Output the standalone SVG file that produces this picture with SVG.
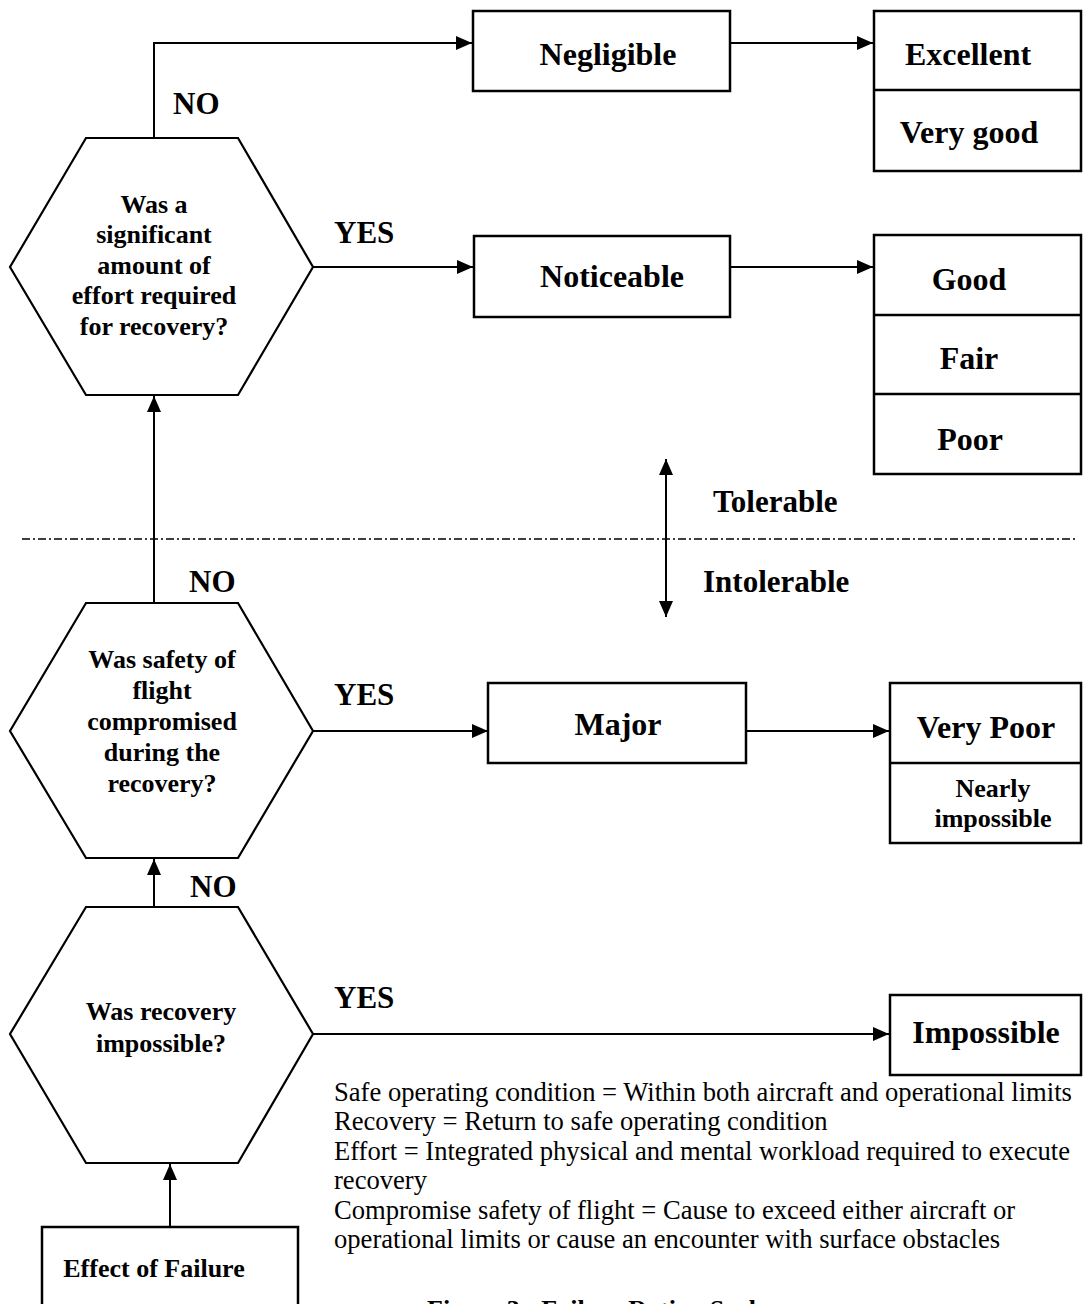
<svg xmlns="http://www.w3.org/2000/svg" width="1084" height="1304" viewBox="0 0 1084 1304">
<style>
.bg{fill:#fff}
.shape{fill:#fff;stroke:#000;stroke-width:2.2}
.box{fill:#fff;stroke:#000;stroke-width:2.5}
.conn{fill:none;stroke:#000;stroke-width:2}
.dash{fill:none;stroke:#000;stroke-width:1.6;stroke-dasharray:8 3 2 3}
.lbl{font-family:"Liberation Serif","Times New Roman",serif;font-weight:bold;font-size:31px;fill:#000}
.big{font-family:"Liberation Serif","Times New Roman",serif;font-weight:bold;font-size:32px;fill:#000;text-anchor:middle}
.q{font-family:"Liberation Serif","Times New Roman",serif;font-weight:bold;font-size:26px;fill:#000;text-anchor:middle}
.note{font-family:"Liberation Serif","Times New Roman",serif;font-size:26.6px;fill:#000}
</style>
<defs>
<marker id="ah" markerUnits="userSpaceOnUse" markerWidth="16" markerHeight="14" refX="16" refY="7" orient="auto-start-reverse">
<path d="M0,0 L16,7 L0,14 z" fill="#000"/>
</marker>
</defs>
<rect class="bg" x="0" y="0" width="1084" height="1304"/>

<g id="connectors">
<polyline class="conn" points="154,138 154,43 472,43" marker-end="url(#ah)"/>
<line class="conn" x1="730" y1="43" x2="873" y2="43" marker-end="url(#ah)"/>
<line class="conn" x1="313" y1="267" x2="473" y2="267" marker-end="url(#ah)"/>
<line class="conn" x1="730" y1="267" x2="873" y2="267" marker-end="url(#ah)"/>
<line class="conn" x1="154" y1="603" x2="154" y2="396" marker-end="url(#ah)"/>
<line class="conn" x1="313" y1="731" x2="488" y2="731" marker-end="url(#ah)"/>
<line class="conn" x1="746" y1="731" x2="889" y2="731" marker-end="url(#ah)"/>
<line class="conn" x1="154" y1="907" x2="154" y2="859" marker-end="url(#ah)"/>
<line class="conn" x1="313" y1="1034" x2="889" y2="1034" marker-end="url(#ah)"/>
<line class="conn" x1="170" y1="1227" x2="170" y2="1164" marker-end="url(#ah)"/>
<line class="conn" x1="666" y1="459" x2="666" y2="617" marker-start="url(#ah)" marker-end="url(#ah)"/>
<line class="dash" x1="22" y1="539" x2="1078" y2="539"/>
</g>

<g id="labels">
<text class="lbl" x="173" y="114">NO</text>
<text class="lbl" x="334" y="243">YES</text>
<text class="lbl" x="713" y="512">Tolerable</text>
<text class="lbl" x="703" y="592">Intolerable</text>
<text class="lbl" x="189" y="592">NO</text>
<text class="lbl" x="334" y="705">YES</text>
<text class="lbl" x="190" y="897">NO</text>
<text class="lbl" x="334" y="1008">YES</text>
</g>

<g id="q-effort">
<polygon class="shape" points="86,138 238,138 313,267 238,395 86,395 10,267"/>
<text class="q" x="154" y="213">Was a</text>
<text class="q" x="154" y="243">significant</text>
<text class="q" x="154" y="274">amount of</text>
<text class="q" x="154" y="304">effort required</text>
<text class="q" x="154" y="335">for recovery?</text>
</g>

<g id="q-safety">
<polygon class="shape" points="86,603 238,603 313,731 238,858 86,858 10,731"/>
<text class="q" x="162" y="668">Was safety of</text>
<text class="q" x="162" y="699">flight</text>
<text class="q" x="162" y="730">compromised</text>
<text class="q" x="162" y="761">during the</text>
<text class="q" x="162" y="792">recovery?</text>
</g>

<g id="q-impossible">
<polygon class="shape" points="86,907 238,907 313,1034 238,1163 86,1163 10,1034"/>
<text class="q" x="161" y="1020">Was recovery</text>
<text class="q" x="161" y="1052">impossible?</text>
</g>

<g id="negligible">
<rect class="box" x="473" y="11" width="257" height="80"/>
<text class="big" x="608" y="65">Negligible</text>
</g>

<g id="excellent-verygood">
<rect class="box" x="874" y="11" width="207" height="160"/>
<line class="box" x1="874" y1="90" x2="1081" y2="90"/>
<text class="big" x="968" y="65">Excellent</text>
<text class="big" x="969" y="143">Very good</text>
</g>

<g id="noticeable">
<rect class="box" x="474" y="236" width="256" height="81"/>
<text class="big" x="612" y="287">Noticeable</text>
</g>

<g id="good-fair-poor">
<rect class="box" x="874" y="235" width="207" height="239"/>
<line class="box" x1="874" y1="315" x2="1081" y2="315"/>
<line class="box" x1="874" y1="394" x2="1081" y2="394"/>
<text class="big" x="969" y="290">Good</text>
<text class="big" x="969" y="369">Fair</text>
<text class="big" x="970" y="450">Poor</text>
</g>

<g id="major">
<rect class="box" x="488" y="683" width="258" height="80"/>
<text class="big" x="618" y="735">Major</text>
</g>

<g id="verypoor-nearlyimpossible">
<rect class="box" x="890" y="683" width="191" height="160"/>
<line class="box" x1="890" y1="763" x2="1081" y2="763"/>
<text class="big" x="986" y="738">Very Poor</text>
<text class="q" x="993" y="797">Nearly</text>
<text class="q" x="993" y="827">impossible</text>
</g>

<g id="impossible">
<rect class="box" x="890" y="995" width="191" height="80"/>
<text class="big" x="986" y="1043">Impossible</text>
</g>

<g id="effect-of-failure">
<rect class="box" x="42" y="1227" width="256" height="100"/>
<text class="q" x="154" y="1277">Effect of Failure</text>
</g>

<g id="notes">
<text class="note" x="334" y="1101">Safe operating condition = Within both aircraft and operational limits</text>
<text class="note" x="334" y="1130">Recovery = Return to safe operating condition</text>
<text class="note" x="334" y="1160">Effort = Integrated physical and mental workload required to execute</text>
<text class="note" x="334" y="1189">recovery</text>
<text class="note" x="334" y="1219">Compromise safety of flight = Cause to exceed either aircraft or</text>
<text class="note" x="334" y="1248">operational limits or cause an encounter with surface obstacles</text>
</g>

<g id="caption">
<text class="q" x="427" y="1318" style="text-anchor:start">Figure 3 - Failure Rating Scale</text>
</g>
</svg>
